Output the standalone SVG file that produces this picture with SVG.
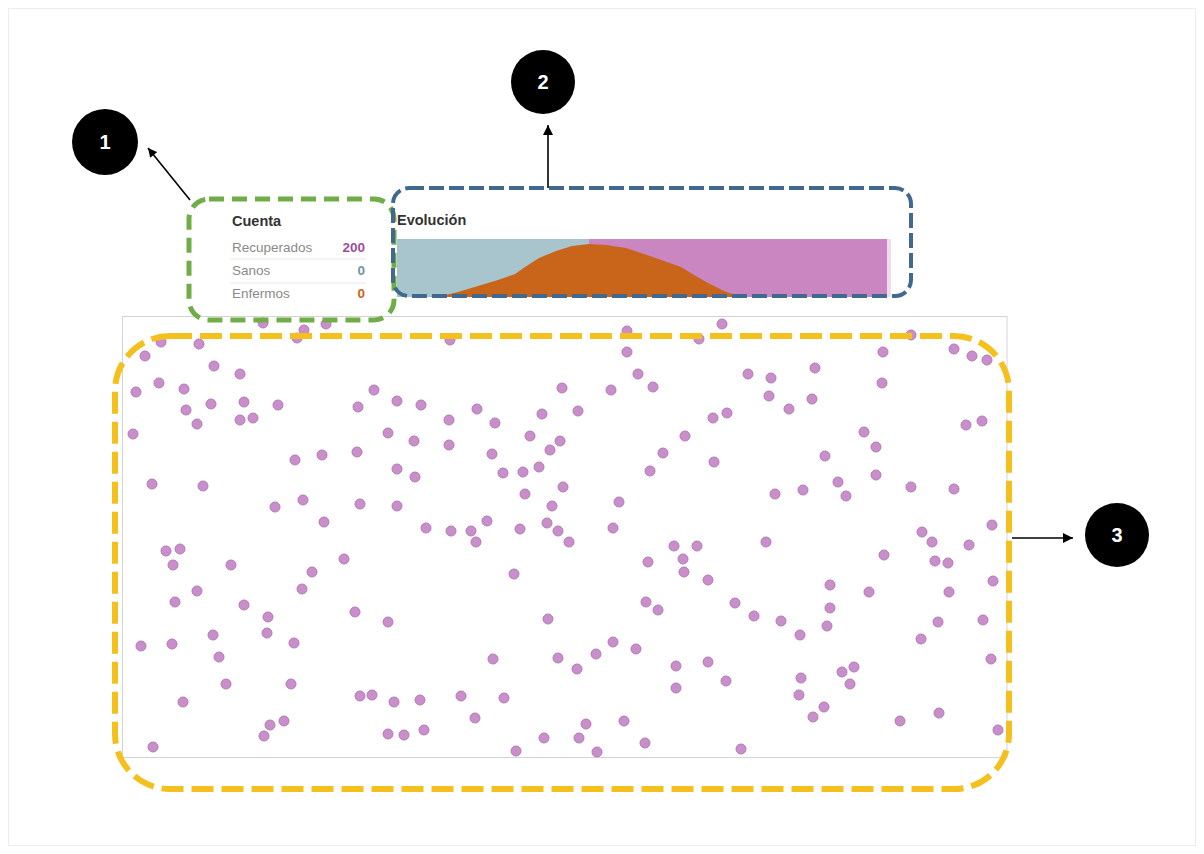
<svg xmlns="http://www.w3.org/2000/svg" width="1204" height="854" viewBox="0 0 1204 854">
<defs>
<style>
.bg{fill:#ffffff}
.frame{fill:none;stroke:#ededed;stroke-width:1}
.badge circle{fill:#000000}
.badge text{fill:#ffffff;font-family:"Liberation Sans",Arial,sans-serif;font-weight:bold;font-size:20px;text-anchor:middle}
.conn{stroke:#000000;stroke-width:1.6;fill:none}
.green{fill:none;stroke:#70ad47;stroke-width:5;stroke-dasharray:15 8}
.blue{fill:none;stroke:#41698f;stroke-width:4;stroke-dasharray:15 5}
.yellow{fill:none;stroke:#f4c01e;stroke-width:6;stroke-dasharray:22 8}
.plot{fill:#ffffff;stroke:#d3d3d3;stroke-width:1}
.title{font-family:"Liberation Sans",Arial,sans-serif;font-weight:bold;font-size:14.5px;fill:#333333}
.lbl{font-family:"Liberation Sans",Arial,sans-serif;font-size:13.5px;fill:#8a8a8a}
.num{font-family:"Liberation Sans",Arial,sans-serif;font-weight:bold;font-size:13.5px;text-anchor:end}
.sep{stroke:#e8e8e8;stroke-width:1}
.dots circle{fill:#c98fca;stroke:#b57ab8;stroke-width:1}
</style>
<marker id="ah" viewBox="0 0 10 10" refX="10" refY="5" markerWidth="11" markerHeight="9" orient="auto" markerUnits="userSpaceOnUse">
<path d="M0,0 L10,5 L0,10 z" fill="#000000"/>
</marker>
<marker id="ah2" viewBox="0 0 10 10" refX="10" refY="5" markerWidth="13" markerHeight="10" orient="auto" markerUnits="userSpaceOnUse">
<path d="M0,0 L10,5 L0,10 z" fill="#000000"/>
</marker>
</defs>
<rect class="bg" x="0" y="0" width="1204" height="854"/>
<rect class="frame" x="8.5" y="8.5" width="1187" height="837"/>

<g id="plot-area">
<rect class="plot" x="122.5" y="316.5" width="884.5" height="441"/>
<g class="dots">
<circle cx="263" cy="323" r="5"/><circle cx="326" cy="324" r="5"/><circle cx="304" cy="330" r="5"/><circle cx="297" cy="338" r="5"/><circle cx="161" cy="342" r="5"/><circle cx="199" cy="344" r="5"/><circle cx="145" cy="356" r="5"/><circle cx="214" cy="366" r="5"/><circle cx="240" cy="374" r="5"/><circle cx="159" cy="383" r="5"/><circle cx="136" cy="392" r="5"/><circle cx="184" cy="389" r="5"/><circle cx="374" cy="390" r="5"/><circle cx="397" cy="401" r="5"/><circle cx="186" cy="410" r="5"/><circle cx="211" cy="404" r="5"/><circle cx="244" cy="402" r="5"/><circle cx="278" cy="405" r="5"/><circle cx="358" cy="407" r="5"/><circle cx="197" cy="424" r="5"/><circle cx="240" cy="420" r="5"/><circle cx="253" cy="418" r="5"/><circle cx="133" cy="434" r="5"/><circle cx="388" cy="433" r="5"/><circle cx="414" cy="441" r="5"/><circle cx="295" cy="460" r="5"/><circle cx="322" cy="455" r="5"/><circle cx="357" cy="452" r="5"/><circle cx="397" cy="469" r="5"/><circle cx="415" cy="477" r="5"/><circle cx="152" cy="484" r="5"/><circle cx="203" cy="486" r="5"/><circle cx="275" cy="507" r="5"/><circle cx="303" cy="500" r="5"/><circle cx="360" cy="504" r="5"/><circle cx="397" cy="506" r="5"/><circle cx="324" cy="522" r="5"/>
<circle cx="450" cy="340" r="5"/><circle cx="627" cy="331" r="5"/><circle cx="627" cy="352" r="5"/><circle cx="699" cy="339" r="5"/><circle cx="638" cy="374" r="5"/><circle cx="653" cy="387" r="5"/><circle cx="562" cy="388" r="5"/><circle cx="611" cy="390" r="5"/><circle cx="421" cy="405" r="5"/><circle cx="477" cy="409" r="5"/><circle cx="449" cy="420" r="5"/><circle cx="495" cy="423" r="5"/><circle cx="542" cy="414" r="5"/><circle cx="578" cy="411" r="5"/><circle cx="713" cy="418" r="5"/><circle cx="449" cy="445" r="5"/><circle cx="530" cy="436" r="5"/><circle cx="560" cy="441" r="5"/><circle cx="550" cy="450" r="5"/><circle cx="492" cy="454" r="5"/><circle cx="685" cy="436" r="5"/><circle cx="663" cy="453" r="5"/><circle cx="714" cy="462" r="5"/><circle cx="650" cy="471" r="5"/><circle cx="503" cy="473" r="5"/><circle cx="523" cy="472" r="5"/><circle cx="539" cy="467" r="5"/><circle cx="563" cy="487" r="5"/><circle cx="525" cy="494" r="5"/><circle cx="552" cy="506" r="5"/><circle cx="619" cy="502" r="5"/><circle cx="426" cy="528" r="5"/><circle cx="451" cy="531" r="5"/><circle cx="471" cy="531" r="5"/><circle cx="487" cy="521" r="5"/><circle cx="520" cy="529" r="5"/><circle cx="547" cy="523" r="5"/><circle cx="558" cy="531" r="5"/><circle cx="613" cy="528" r="5"/><circle cx="476" cy="542" r="5"/><circle cx="569" cy="542" r="5"/>
<circle cx="722" cy="324" r="5"/><circle cx="911" cy="335" r="5"/><circle cx="954" cy="349" r="5"/><circle cx="972" cy="356" r="5"/><circle cx="987" cy="360" r="5"/><circle cx="883" cy="352" r="5"/><circle cx="815" cy="368" r="5"/><circle cx="748" cy="374" r="5"/><circle cx="771" cy="378" r="5"/><circle cx="769" cy="396" r="5"/><circle cx="812" cy="399" r="5"/><circle cx="789" cy="409" r="5"/><circle cx="882" cy="383" r="5"/><circle cx="727" cy="413" r="5"/><circle cx="966" cy="425" r="5"/><circle cx="982" cy="421" r="5"/><circle cx="864" cy="432" r="5"/><circle cx="876" cy="447" r="5"/><circle cx="825" cy="456" r="5"/><circle cx="876" cy="475" r="5"/><circle cx="838" cy="482" r="5"/><circle cx="846" cy="496" r="5"/><circle cx="775" cy="494" r="5"/><circle cx="803" cy="490" r="5"/><circle cx="911" cy="487" r="5"/><circle cx="954" cy="489" r="5"/><circle cx="992" cy="525" r="5"/><circle cx="922" cy="532" r="5"/><circle cx="766" cy="542" r="5"/><circle cx="932" cy="542" r="5"/>
<circle cx="166" cy="551" r="5"/><circle cx="180" cy="549" r="5"/><circle cx="173" cy="565" r="5"/><circle cx="231" cy="565" r="5"/><circle cx="197" cy="591" r="5"/><circle cx="175" cy="602" r="5"/><circle cx="244" cy="605" r="5"/><circle cx="268" cy="617" r="5"/><circle cx="267" cy="633" r="5"/><circle cx="213" cy="635" r="5"/><circle cx="172" cy="644" r="5"/><circle cx="141" cy="646" r="5"/><circle cx="219" cy="657" r="5"/><circle cx="294" cy="643" r="5"/><circle cx="226" cy="684" r="5"/><circle cx="291" cy="684" r="5"/><circle cx="183" cy="702" r="5"/><circle cx="312" cy="572" r="5"/><circle cx="302" cy="589" r="5"/><circle cx="344" cy="559" r="5"/><circle cx="355" cy="612" r="5"/><circle cx="388" cy="622" r="5"/><circle cx="360" cy="696" r="5"/><circle cx="372" cy="695" r="5"/><circle cx="394" cy="702" r="5"/><circle cx="420" cy="700" r="5"/><circle cx="270" cy="725" r="5"/><circle cx="284" cy="721" r="5"/><circle cx="264" cy="736" r="5"/><circle cx="388" cy="734" r="5"/><circle cx="404" cy="735" r="5"/><circle cx="153" cy="747" r="5"/>
<circle cx="674" cy="546" r="5"/><circle cx="697" cy="546" r="5"/><circle cx="648" cy="562" r="5"/><circle cx="683" cy="559" r="5"/><circle cx="684" cy="572" r="5"/><circle cx="708" cy="580" r="5"/><circle cx="514" cy="574" r="5"/><circle cx="646" cy="602" r="5"/><circle cx="658" cy="610" r="5"/><circle cx="548" cy="619" r="5"/><circle cx="613" cy="642" r="5"/><circle cx="636" cy="649" r="5"/><circle cx="596" cy="654" r="5"/><circle cx="558" cy="658" r="5"/><circle cx="577" cy="669" r="5"/><circle cx="493" cy="659" r="5"/><circle cx="676" cy="666" r="5"/><circle cx="708" cy="662" r="5"/><circle cx="676" cy="688" r="5"/><circle cx="461" cy="696" r="5"/><circle cx="504" cy="698" r="5"/><circle cx="475" cy="718" r="5"/><circle cx="424" cy="730" r="5"/><circle cx="624" cy="721" r="5"/><circle cx="586" cy="724" r="5"/><circle cx="544" cy="738" r="5"/><circle cx="579" cy="738" r="5"/><circle cx="645" cy="743" r="5"/><circle cx="516" cy="751" r="5"/><circle cx="597" cy="752" r="5"/>
<circle cx="969" cy="545" r="5"/><circle cx="884" cy="555" r="5"/><circle cx="935" cy="561" r="5"/><circle cx="948" cy="563" r="5"/><circle cx="830" cy="585" r="5"/><circle cx="993" cy="581" r="5"/><circle cx="869" cy="592" r="5"/><circle cx="949" cy="592" r="5"/><circle cx="735" cy="603" r="5"/><circle cx="754" cy="616" r="5"/><circle cx="781" cy="621" r="5"/><circle cx="830" cy="608" r="5"/><circle cx="827" cy="626" r="5"/><circle cx="938" cy="622" r="5"/><circle cx="983" cy="620" r="5"/><circle cx="800" cy="635" r="5"/><circle cx="921" cy="639" r="5"/><circle cx="726" cy="681" r="5"/><circle cx="801" cy="678" r="5"/><circle cx="799" cy="695" r="5"/><circle cx="842" cy="672" r="5"/><circle cx="854" cy="667" r="5"/><circle cx="850" cy="684" r="5"/><circle cx="991" cy="659" r="5"/><circle cx="824" cy="707" r="5"/><circle cx="813" cy="717" r="5"/><circle cx="900" cy="721" r="5"/><circle cx="939" cy="713" r="5"/><circle cx="998" cy="730" r="5"/><circle cx="741" cy="749" r="5"/>
</g>
<rect class="yellow" x="115" y="336" width="894" height="453" rx="55" ry="55"/>
</g>

<g id="cuenta">
<text class="title" x="232" y="226">Cuenta</text>
<text class="lbl" x="232" y="252">Recuperados</text>
<text class="num" x="365" y="252" fill="#9b4f9b">200</text>
<line class="sep" x1="230" y1="259" x2="366" y2="259"/>
<text class="lbl" x="232" y="275">Sanos</text>
<text class="num" x="365" y="275" fill="#6f93a8">0</text>
<line class="sep" x1="230" y1="283" x2="366" y2="283"/>
<text class="lbl" x="232" y="298">Enfermos</text>
<text class="num" x="365" y="298" fill="#c8651b">0</text>
<rect class="green" x="189" y="199" width="205" height="121" rx="20" ry="20"/>
</g>

<g id="evolucion">
<text class="title" x="397" y="225">Evolución</text>
<rect x="397" y="239" width="192" height="58" fill="#a8c5cd"/>
<rect x="589" y="239" width="298" height="58" fill="#c986c1"/>
<rect x="887" y="239" width="4" height="58" fill="#eedcec"/>
<path d="M428,297 L441,296 L458,292 L478,286 L498,280 L515,274 L525,267 L539,258 L556,251 L572,246 L589,244 L606,245 L626,248 L647,255 L667,262 L681,267 L694,275 L708,283 L724,291 L741,297 Z" fill="#c9651b"/>
<rect class="blue" x="393" y="188" width="518" height="108" rx="16" ry="16"/>
</g>

<g id="connectors">
<line class="conn" x1="190" y1="200" x2="148" y2="148" marker-end="url(#ah)"/>
<line class="conn" x1="548" y1="188" x2="548" y2="125" marker-end="url(#ah2)"/>
<line class="conn" x1="1012" y1="538" x2="1073" y2="538" marker-end="url(#ah2)"/>
</g>

<g id="badge-1" class="badge">
<circle cx="105" cy="142" r="33"/>
<text x="105" y="149">1</text>
</g>
<g id="badge-2" class="badge">
<circle cx="543" cy="82" r="32"/>
<text x="543" y="89">2</text>
</g>
<g id="badge-3" class="badge">
<circle cx="1117" cy="535" r="32"/>
<text x="1117" y="542">3</text>
</g>
</svg>
